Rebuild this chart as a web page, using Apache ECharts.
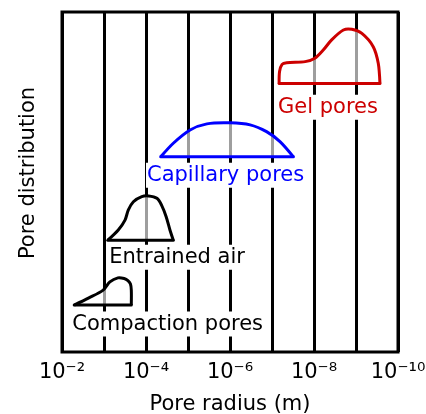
<!DOCTYPE html>
<html>
<head>
<meta charset="utf-8">
<script src="https://cdn.jsdelivr.net/npm/echarts@6/dist/echarts.min.js"></script>
<style>
html,body{margin:0;padding:0;background:#fff;}
#chart{width:426px;height:414px;}
</style>
</head>
<body>
<div id="chart"></div>
<script>
// x = pore radius exponent n (radius = 10^-n m); y = relative pore distribution (0-100)
const tickExponents = [2, 4, 6, 8, 10];
const tickLabels = ['10\u207B\u00B2', '10\u207B\u2074', '10\u207B\u2076', '10\u207B\u2078', '10\u207B\u00B9\u2070'];

const compactionX = [2.29, 2.64, 2.98, 3.14, 3.33, 3.48, 3.57, 3.63, 3.65, 3.65];
const compactionY = [13.8, 15.9, 18.2, 20.6, 21.8, 21.6, 21.0, 20.0, 18.2, 13.8];

const entrainedX = [3.09, 3.34, 3.50, 3.58, 3.70, 3.90, 4.06, 4.26, 4.37, 4.48, 4.57, 4.65];
const entrainedY = [32.9, 35.9, 38.8, 41.8, 44.2, 45.7, 45.9, 45.2, 43.2, 39.8, 35.9, 32.9];

const capillaryX = [4.35, 4.65, 5.05, 5.45, 6.00, 6.48, 6.87, 7.19, 7.51];
const capillaryY = [57.4, 61.4, 65.3, 67.1, 67.4, 66.8, 64.8, 61.9, 57.4];

const gelX = [7.17, 7.18, 7.24, 7.35, 7.79, 8.02, 8.22, 8.42, 8.70, 8.90, 9.14, 9.41, 9.53, 9.57];
const gelY = [79.0, 82.5, 84.6, 85.1, 85.4, 86.4, 88.8, 91.8, 94.7, 94.9, 93.7, 89.8, 84.9, 79.0];

const labelNames = ['Compaction pores', 'Entrained air', 'Capillary pores', 'Gel pores'];
const labelX = [2.22, 3.10, 4.00, 7.12];
const labelY = [8.2, 27.9, 52.0, 72.0];

const FONT = 'DejaVu Sans';
const labelColors = ['#000000', '#000000', '#0000ff', '#cc0000'];

function shapeSeries(name, xs, ys, color) {
  return {
    type: 'custom',
    name: name,
    silent: true,
    z: 3,
    data: xs.map((x, i) => [x, ys[i]]),
    renderItem: function (params, api) {
      if (params.dataIndex !== 0) return null;
      const pts = xs.map((x, i) => api.coord([x, ys[i]]));
      const first = pts[0], last = pts[pts.length - 1];
      return {
        type: 'group',
        children: [
          {
            type: 'polyline',
            shape: { points: pts, smooth: 0.3 },
            style: { fill: 'rgba(255,255,255,0.62)', stroke: color, lineWidth: 3, lineJoin: 'round' }
          },
          {
            type: 'line',
            shape: { x1: first[0], y1: first[1], x2: last[0], y2: last[1] },
            style: { stroke: color, lineWidth: 3, lineCap: 'round' }
          }
        ]
      };
    }
  };
}

const chart = echarts.init(document.getElementById('chart'), null, { renderer: 'canvas' });
chart.setOption({
  animation: false,
  backgroundColor: '#fff',
  textStyle: { fontFamily: FONT },
  grid: { left: 62, right: 28, top: 12, bottom: 62, outerBoundsMode: 'none', containLabel: false,
          show: true, borderColor: '#000', borderWidth: 3, backgroundColor: '#fff' },
  xAxis: {
    type: 'value', min: 2, max: 10, interval: 1,
    name: 'Pore radius (m)', nameLocation: 'middle', nameGap: 42,
    nameTextStyle: { fontSize: 21, color: '#000', fontFamily: FONT },
    axisLine: { show: false }, axisTick: { show: false },
    splitLine: { show: true, lineStyle: { color: '#000', width: 3 } },
    axisLabel: {
      margin: 10, fontSize: 21, color: '#000', fontFamily: FONT, hideOverlap: false,
      showMinLabel: true, showMaxLabel: true,
      formatter: function (v) { const k = tickExponents.indexOf(v); return k >= 0 ? tickLabels[k] : ''; }
    }
  },
  yAxis: {
    type: 'value', min: 0, max: 100,
    name: 'Pore distribution', nameLocation: 'middle', nameGap: 23, nameRotate: 90,
    nameTextStyle: { fontSize: 21, color: '#000', fontFamily: FONT, padding: [0, 0, 0, 18] },
    axisLine: { show: false }, axisTick: { show: false }, axisLabel: { show: false },
    splitLine: { show: false }
  },
  series: [
    shapeSeries('Compaction pores', compactionX, compactionY, '#000000'),
    shapeSeries('Entrained air', entrainedX, entrainedY, '#000000'),
    shapeSeries('Capillary pores', capillaryX, capillaryY, '#0000ff'),
    shapeSeries('Gel pores', gelX, gelY, '#cc0000'),
    {
      type: 'custom', silent: true, z: 5,
      data: labelNames.map((n, i) => [labelX[i], labelY[i]]),
      renderItem: function (params, api) {
        const i = params.dataIndex;
        const p = api.coord([labelX[i], labelY[i]]);
        return {
          type: 'text', x: p[0], y: p[1],
          style: {
            text: labelNames[i], fill: labelColors[i], fontSize: 21, fontFamily: FONT,
            align: 'left', verticalAlign: 'middle', backgroundColor: '#fff', padding: [2, 1, 2, 1]
          }
        };
      }
    }
  ]
});
</script>
</body>
</html>
